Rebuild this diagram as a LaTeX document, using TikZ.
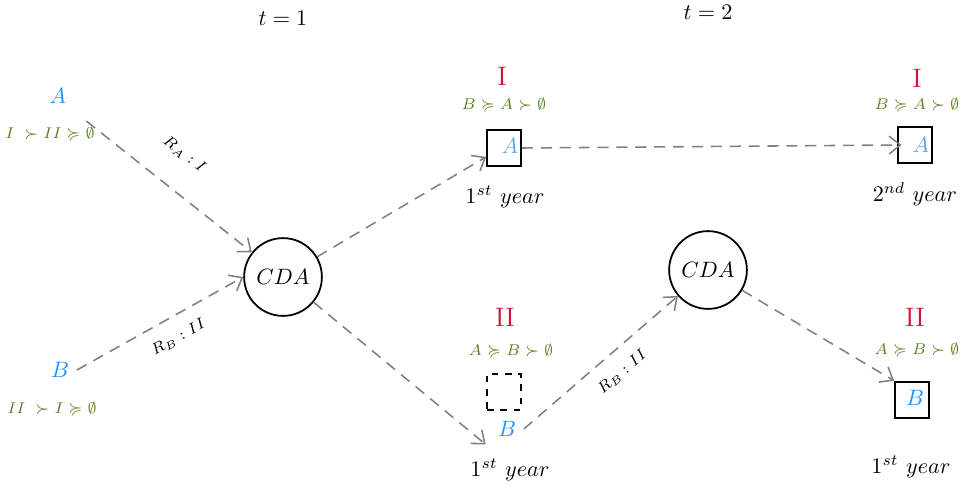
\documentclass[tikz,border=0pt]{standalone}
\usepackage{amsmath,amssymb}
\usepackage{tikz}
\usetikzlibrary{arrows.meta,calc}

\definecolor{agentblue}{RGB}{30,144,255}
\definecolor{paleblue}{RGB}{105,165,230}
\definecolor{schoolred}{RGB}{210,16,52}
\definecolor{prefgreen}{RGB}{88,130,30}

\tikzset{
  flow/.style={draw=gray,line width=0.7pt,dash pattern=on 5pt off 3.5pt,-{Straight Barb[length=5pt,width=8pt]}},
  cda/.style={circle,draw,thick,minimum size=35pt,inner sep=0pt},
  seat/.style={draw,thick,minimum width=15.3pt,minimum height=16.5pt,inner sep=0pt},
  agent/.style={text=agentblue},
  school/.style={text=schoolred,font=\large},
  pref/.style={text=prefgreen,font=\scriptsize},
  rlabel/.style={font=\scriptsize,sloped}
}

\begin{document}
\begin{tikzpicture}[x=0.45pt,y=-0.45pt]
\useasboundingbox (0,0) rectangle (960,486);

% periods
\node (t1) at (283,18) {$t=1$};
\node (t2) at (708,12) {$t=2$};

% students
\node[agent] (A) at (58,96) {$A$};
\node[pref] (prefA) at (50,134) {$I \;\succ II \succcurlyeq \emptyset$};
\node[agent] (B) at (60,370) {$B$};
\node[pref] (prefB) at (52,409) {$II \;\succ I \succcurlyeq \emptyset$};

% mechanisms
\node[cda] (cda1) at (283,277) {$CDA$};
\node[cda] (cda2) at (708,270) {$CDA$};

% school I, first year
\node[school] (schI1) at (502,76) {I};
\node[pref] (prefI1) at (504,105) {$B \succcurlyeq A \succ \emptyset$};
\node[seat] (boxA1) at (504,148) {};
\node[text=paleblue] (A1) at (510,146) {$A$};
\node (year1a) at (505,197) {$1^{st}\ year$};

% school II, first year
\node[school] (schII1) at (505,317) {II};
\node[pref] (prefII1) at (511,351) {$A \succcurlyeq B \succ \emptyset$};
\node[seat,dashed] (slotB1) at (504,392) {};
\node[agent] (B1) at (507,429) {$B$};
\node (year1b) at (510,470) {$1^{st}\ year$};

% school I, second year
\node[school] (schI2) at (917,78) {I};
\node[pref] (prefI2) at (917,105) {$B \succcurlyeq A \succ \emptyset$};
\node[seat] (boxA2) at (915,145) {};
\node[text=paleblue] (A2) at (921,145) {$A$};
\node (year2a) at (915,194) {$2^{nd}\ year$};

% school II, second year
\node[school] (schII2) at (915,317) {II};
\node[pref] (prefII2) at (917,350) {$A \succcurlyeq B \succ \emptyset$};
\node[seat] (boxB2) at (912,400) {};
\node[agent] (B2) at (915,398) {$B$};
\node (year2b) at (911,467) {$1^{st}\ year$};

% flows
\draw[flow,shorten <=7pt] (A.south east) -- node[rlabel,above=9pt,pos=0.5] {$R_{A} : I$} (cda1);
\draw[flow] (B.east) -- node[rlabel,below=3pt,pos=0.55] {$R_{B} : II$} (cda1.west);
\draw[flow] (cda1) -- ([yshift=-4pt]boxA1.west);
\draw[flow] (cda1) -- ([xshift=-2pt]B1.south west);
\draw[flow,shorten >=-2pt] (boxA1.east) -- (boxA2.west);
\draw[flow] (B1.east) -- node[rlabel,below=3pt,pos=0.55] {$R_{B} : II$} (cda2);
\draw[flow] (cda2) -- (boxB2.north west);
\end{tikzpicture}
\end{document}
